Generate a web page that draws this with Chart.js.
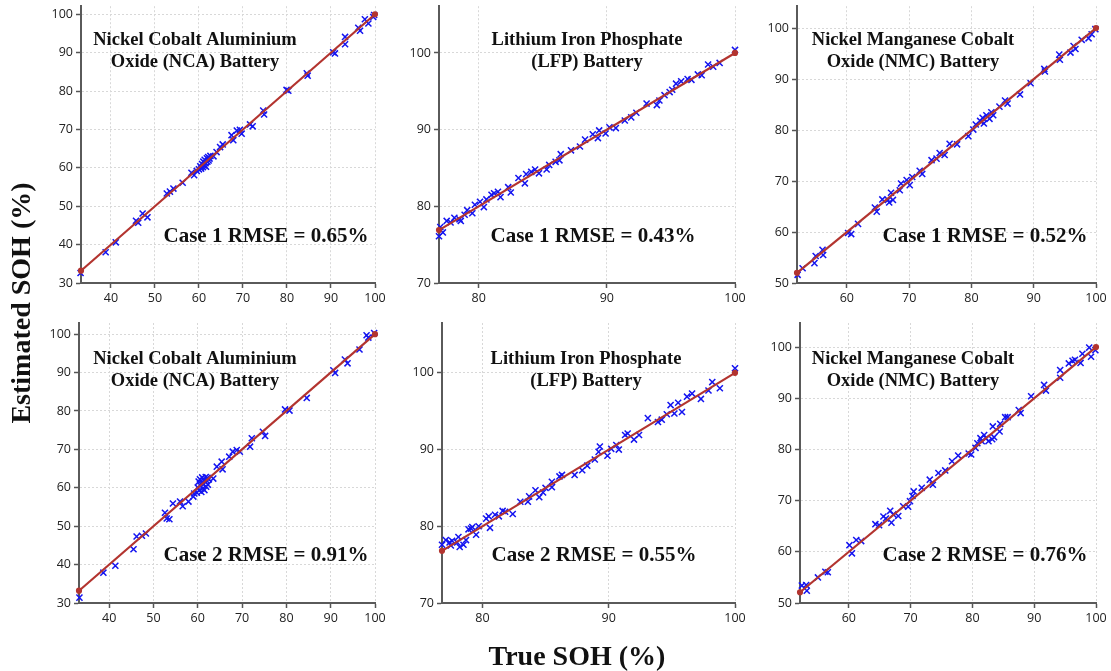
<!DOCTYPE html>
<html>
<head>
<meta charset="utf-8">
<script src="https://cdn.jsdelivr.net/npm/chart.js@4.4.1/dist/chart.umd.min.js"></script>
<style>
  html, body { margin: 0; padding: 0; background: #fff; }
  #wrap { position: relative; width: 1111px; height: 671px; overflow: hidden; background: #fff; }
  #wrap canvas { position: absolute; left: 0; top: 0; }
</style>
</head>
<body>
<div id="wrap"></div>
<script>
// ---- Tick labels ----
const ncaXTicks = [40, 50, 60, 70, 80, 90, 100];
const ncaYTicks = [30, 40, 50, 60, 70, 80, 90, 100];
const lfpXTicks = [80, 90, 100];
const lfpYTicks = [70, 80, 90, 100];
const nmcXTicks = [60, 70, 80, 90, 100];
const nmcYTicks = [50, 60, 70, 80, 90, 100];

// ---- Panel labels ----
const chemistryNames = [
  ['Nickel Cobalt Aluminium', 'Oxide (NCA) Battery'],
  ['Lithium Iron Phosphate', '(LFP) Battery'],
  ['Nickel Manganese Cobalt', 'Oxide (NMC) Battery']
];
const rmseCase1 = ['0.65', '0.43', '0.52'];
const rmseCase2 = ['0.91', '0.55', '0.76'];

// ---- NCA, case 1 ----
const ncaCase1True = [33.1, 38.8, 41.1, 45.7, 46.2, 47.2, 48.3, 52.7, 53.4, 54.2, 56.3, 58.3, 58.9, 59.5,
  60.0, 60.3, 60.5, 60.7, 60.9, 61.0, 61.2, 61.3, 61.5, 61.6, 61.8, 61.9, 62.1, 62.2, 62.4, 62.6,
  63.3, 64.0, 64.8, 65.4, 67.4, 67.8, 68.6, 69.3, 69.7, 71.6, 72.2, 74.6, 74.8, 79.9, 80.3, 84.5, 84.7,
  90.5, 90.9, 93.2, 93.2, 96.2, 96.6, 97.7, 98.5, 99.6, 99.8];
const ncaCase1Est = [32.6, 38.0, 40.6, 46.2, 45.7, 48.1, 47.1, 53.3, 53.8, 54.6, 56.1, 58.7, 58.1, 59.2,
  59.6, 60.4, 59.8, 61.0, 60.2, 61.6, 60.6, 62.1, 61.2, 60.3, 62.5, 61.6, 62.8, 61.9, 62.4, 63.1,
  63.0, 64.1, 65.4, 66.1, 68.5, 67.2, 69.7, 69.9, 68.9, 71.3, 70.8, 74.9, 73.9, 80.3, 80.1, 84.6, 84.0,
  90.1, 89.8, 94.1, 92.2, 96.5, 95.7, 98.7, 97.6, 99.3, 99.8];

// ---- LFP, case 1 ----
const lfpCase1True = [76.9, 77.0, 77.2, 77.5, 77.8, 78.1, 78.5, 78.6, 78.9, 79.1, 79.5, 79.7, 80.1, 80.4,
  80.6, 81.0, 81.2, 81.5, 81.7, 82.3, 82.5, 83.1, 83.6, 83.7, 84.1, 84.4, 84.7, 85.3, 85.5, 86.0, 86.3,
  86.4, 87.2, 87.9, 88.3, 88.9, 89.3, 89.4, 89.9, 90.2, 90.7, 91.4, 91.9, 92.3, 93.1, 93.9, 94.1, 94.5,
  94.9, 95.1, 95.4, 95.8, 96.3, 96.6, 97.1, 97.4, 97.9, 98.3, 98.8, 100.0];
const lfpCase1Est = [76.1, 77.3, 76.6, 78.1, 77.9, 78.5, 78.3, 78.1, 78.9, 79.5, 79.1, 80.2, 80.6, 79.9,
  80.9, 81.5, 81.7, 81.9, 81.2, 82.5, 81.8, 83.7, 83.0, 84.2, 84.5, 84.8, 84.3, 84.8, 85.4, 85.8, 86.0,
  86.8, 87.3, 87.8, 88.7, 89.4, 88.9, 89.9, 89.5, 90.3, 90.2, 91.2, 91.6, 92.2, 93.4, 93.2, 93.8, 94.5,
  94.9, 95.2, 96.0, 96.3, 96.6, 96.5, 97.2, 97.1, 98.5, 98.2, 98.7, 100.4];

// ---- NMC, case 1 ----
const nmcCase1True = [52.1, 52.9, 54.8, 55.0, 56.1, 56.2, 60.2, 60.7, 61.8, 64.5, 64.8, 65.7, 66.6, 66.8,
  67.1, 67.4, 68.5, 68.7, 69.6, 70.1, 70.5, 71.7, 72.1, 73.6, 74.4, 74.9, 75.7, 76.5, 77.7, 79.5, 80.3,
  80.7, 81.4, 81.8, 82.0, 82.4, 82.9, 83.2, 83.5, 84.5, 85.4, 85.8, 87.8, 89.5, 91.7, 91.8, 94.1, 94.2,
  95.9, 96.4, 96.7, 97.7, 98.8, 99.3, 99.9];
const nmcCase1Est = [51.6, 52.9, 53.9, 55.3, 56.5, 55.5, 59.8, 59.6, 61.6, 64.8, 64.0, 66.4, 66.3, 65.8,
  67.7, 66.3, 68.2, 69.5, 70.2, 69.2, 70.8, 72.0, 71.4, 74.1, 74.4, 75.5, 75.1, 77.3, 77.2, 78.8, 80.1,
  81.1, 81.8, 82.4, 81.3, 82.9, 82.2, 83.5, 82.9, 84.6, 85.8, 85.2, 87.0, 89.2, 92.0, 91.5, 94.8, 93.8,
  95.2, 96.5, 95.9, 97.7, 98.0, 98.8, 99.8];

// ---- NCA, case 2 ----
const ncaCase2True = [33.3, 38.7, 41.4, 45.5, 46.2, 47.4, 48.3, 52.6, 53.0, 53.6, 54.4, 56.0, 56.6, 57.9,
  59.0, 59.2, 59.8, 60.0, 60.2, 60.3, 60.5, 60.6, 60.8, 60.9, 61.0, 61.1, 61.3, 61.4, 61.5, 61.7, 61.8,
  61.9, 62.0, 62.2, 62.3, 62.5, 63.5, 64.3, 65.4, 65.6, 67.1, 67.9, 68.8, 69.5, 71.8, 72.2, 74.7, 75.2,
  79.7, 80.7, 84.6, 90.6, 91.0, 93.2, 93.8, 96.5, 98.1, 98.5, 99.8];
const ncaCase2Est = [31.4, 37.9, 39.7, 44.0, 47.3, 47.5, 48.1, 53.5, 52.0, 51.8, 55.9, 56.4, 55.2, 56.4,
  57.7, 58.5, 58.7, 60.1, 61.6, 59.3, 62.2, 60.6, 58.9, 61.3, 62.7, 59.8, 60.9, 62.0, 59.4, 61.5, 62.8,
  60.3, 61.9, 62.6, 60.8, 62.2, 62.4, 65.5, 66.8, 64.8, 68.1, 69.4, 69.8, 69.4, 70.7, 72.9, 74.6, 73.5,
  80.4, 80.1, 83.4, 90.6, 89.9, 93.4, 92.4, 96.0, 99.7, 99.1, 100.3];

// ---- LFP, case 2 ----
const lfpCase2True = [76.8, 77.1, 77.4, 77.5, 77.6, 78.0, 78.1, 78.2, 78.5, 78.7, 78.9, 79.1, 79.2, 79.5,
  79.7, 80.3, 80.5, 80.6, 81.0, 81.3, 81.6, 81.8, 82.4, 83.0, 83.6, 83.7, 84.2, 84.5, 84.8, 85.0, 85.5,
  85.5, 86.1, 86.3, 87.3, 87.9, 88.3, 88.9, 89.2, 89.3, 89.9, 90.2, 90.6, 90.8, 91.3, 91.5, 92.0, 92.4,
  93.1, 93.9, 94.2, 94.6, 94.9, 95.2, 95.5, 95.8, 96.2, 96.6, 97.3, 97.9, 98.2, 98.8, 100.0];
const lfpCase2Est = [77.6, 78.2, 77.9, 77.5, 78.1, 77.9, 78.6, 77.3, 77.6, 78.2, 79.6, 79.7, 79.9, 78.9,
  80.0, 81.0, 81.3, 79.8, 81.5, 81.3, 82.0, 81.9, 81.6, 83.2, 83.2, 83.9, 84.7, 83.8, 84.4, 85.0, 85.8,
  85.1, 86.5, 86.7, 86.7, 87.3, 87.9, 88.7, 89.7, 90.4, 89.2, 90.1, 90.6, 90.0, 91.9, 92.1, 91.3, 91.9,
  94.1, 93.6, 93.9, 94.6, 95.8, 94.7, 96.1, 94.9, 96.9, 97.3, 96.6, 97.7, 98.8, 98.0, 100.6];

// ---- NMC, case 2 ----
const nmcCase2True = [52.4, 53.1, 53.2, 55.0, 56.2, 56.6, 60.1, 60.5, 61.2, 62.0, 64.3, 64.9, 65.6, 66.0,
  66.7, 66.9, 67.2, 68.0, 68.8, 69.6, 69.9, 70.3, 70.5, 71.8, 73.1, 73.6, 74.5, 75.6, 76.7, 77.7, 79.4,
  79.8, 80.5, 80.8, 81.3, 81.5, 81.9, 82.2, 82.6, 83.2, 83.3, 83.5, 84.4, 84.5, 85.3, 85.7, 87.5, 87.8,
  89.5, 91.6, 91.9, 94.2, 94.2, 95.6, 96.2, 96.6, 97.5, 97.8, 98.9, 99.2, 99.9];
const nmcCase2Est = [53.4, 53.5, 52.4, 55.0, 56.1, 56.0, 61.3, 59.7, 62.3, 62.1, 65.4, 65.2, 66.9, 66.5,
  68.0, 65.7, 67.3, 67.0, 68.9, 68.8, 69.9, 70.9, 71.8, 72.5, 74.1, 73.1, 75.4, 75.9, 77.7, 78.8, 79.2,
  79.0, 80.3, 81.2, 82.2, 81.6, 82.8, 82.2, 81.6, 82.0, 84.5, 82.4, 83.5, 85.0, 86.3, 86.3, 87.7, 87.1,
  90.4, 92.6, 91.5, 95.5, 94.0, 96.8, 97.3, 97.5, 96.9, 98.7, 99.9, 98.1, 99.4];

// ---- Panel setup: plot box [left, top, right, bottom] and axis ranges ----
const panels = [
  { trueV: ncaCase1True, estV: ncaCase1Est, xTicks: ncaXTicks, yTicks: ncaYTicks, xr: [33.2, 100], yr: [30, 102.1],
    box: [81, 5, 375, 283], name: chemistryNames[0], tx: 195, ty: [40, 62], label: 'Case 1 RMSE = ' + rmseCase1[0] + '%', rx: 266, ry: 237 },
  { trueV: lfpCase1True, estV: lfpCase1Est, xTicks: lfpXTicks, yTicks: lfpYTicks, xr: [76.9, 100], yr: [70, 106.1],
    box: [439, 5, 735, 283], name: chemistryNames[1], tx: 587, ty: [40, 62], label: 'Case 1 RMSE = ' + rmseCase1[1] + '%', rx: 593, ry: 237 },
  { trueV: nmcCase1True, estV: nmcCase1Est, xTicks: nmcXTicks, yTicks: nmcYTicks, xr: [52.0, 100], yr: [50, 104.3],
    box: [797, 5, 1096, 283], name: chemistryNames[2], tx: 913, ty: [40, 62], label: 'Case 1 RMSE = ' + rmseCase1[2] + '%', rx: 985, ry: 237 },
  { trueV: ncaCase2True, estV: ncaCase2Est, xTicks: ncaXTicks, yTicks: ncaYTicks, xr: [33.2, 100], yr: [30, 102.9],
    box: [79, 323, 375, 603], name: chemistryNames[0], tx: 195, ty: [359, 381], label: 'Case 2 RMSE = ' + rmseCase2[0] + '%', rx: 266, ry: 556 },
  { trueV: lfpCase2True, estV: lfpCase2Est, xTicks: lfpXTicks, yTicks: lfpYTicks, xr: [76.8, 100], yr: [70, 106.5],
    box: [442, 323, 735, 603], name: chemistryNames[1], tx: 586, ty: [359, 381], label: 'Case 2 RMSE = ' + rmseCase2[1] + '%', rx: 594, ry: 556 },
  { trueV: nmcCase2True, estV: nmcCase2Est, xTicks: nmcXTicks, yTicks: nmcYTicks, xr: [52.1, 100], yr: [50, 104.7],
    box: [800, 323, 1096, 603], name: chemistryNames[2], tx: 913, ty: [359, 381], label: 'Case 2 RMSE = ' + rmseCase2[2] + '%', rx: 985, ry: 556 }
];

const W = 1111, H = 671;
const Y_AXIS_W = 45, X_AXIS_H = 30;
const SERIF = '"Liberation Serif", "Times New Roman", serif';
const SANS = '"Open Sans", "Noto Sans", sans-serif';
const LINE_RED = '#b3342f';
const MARK_BLUE = '#1414f0';
const wrap = document.getElementById('wrap');

function fixTicks(values) {
  return function (scale) { scale.ticks = values.map(v => ({ value: v })); };
}
function fixSize(prop, size) {
  return function (scale) {
    scale[prop] = size;
    scale.paddingTop = 0; scale.paddingBottom = 0;
    scale.paddingLeft = 0; scale.paddingRight = 0;
  };
}
function axisOpts(range, ticks, sizeProp, size) {
  return {
    type: 'linear',
    min: range[0], max: range[1],
    afterBuildTicks: fixTicks(ticks),
    afterFit: fixSize(sizeProp, size),
    grid: { color: '#d8d8d8', lineWidth: 1, tickLength: 5, tickColor: '#555', tickWidth: 1.5, tickBorderDash: [] },
    border: { color: '#5a5a5a', width: 2, dash: [2, 2] },
    ticks: { color: '#222', padding: 3, font: { family: SANS, size: 12.5 }, callback: v => String(v) }
  };
}

// Panel headings, RMSE captions and (on the first panel) the shared axis titles
const textPlugin = {
  id: 'panelText',
  afterDraw(chart) {
    const p = chart.config.options.plugins.panelText;
    const ctx = chart.ctx;
    ctx.save();
    ctx.fillStyle = '#111';
    ctx.textAlign = 'center';
    ctx.textBaseline = 'middle';
    ctx.font = 'bold 18.5px ' + SERIF;
    ctx.fillText(p.name[0], p.tx, p.ty[0]);
    ctx.fillText(p.name[1], p.tx, p.ty[1]);
    ctx.font = 'bold 21px ' + SERIF;
    ctx.fillText(p.label, p.rx, p.ry);
    if (p.axisTitles) {
      ctx.font = 'bold 28px ' + SERIF;
      ctx.fillText('True SOH (%)', 577, 658);
      ctx.translate(23, 303);
      ctx.rotate(-Math.PI / 2);
      ctx.fillText('Estimated SOH (%)', 0, 0);
    }
    ctx.restore();
  }
};

panels.forEach((p, i) => {
  const canvas = document.createElement('canvas');
  canvas.width = W; canvas.height = H;
  canvas.style.width = W + 'px'; canvas.style.height = H + 'px';
  wrap.appendChild(canvas);
  const [L, T, R, B] = p.box;
  const points = p.trueV.map((t, k) => ({ x: t, y: p.estV[k] }));
  const ideal = [{ x: p.xr[0], y: p.xr[0] }, { x: 100, y: 100 }];
  new Chart(canvas, {
    type: 'scatter',
    data: {
      datasets: [
        { data: ideal, showLine: true, borderColor: LINE_RED, borderWidth: 2.2, pointRadius: 2,
          pointBackgroundColor: LINE_RED, pointBorderColor: LINE_RED, clip: false },
        { data: points, pointStyle: 'crossRot', pointRadius: 4.3, borderColor: MARK_BLUE, borderWidth: 1.5,
          backgroundColor: MARK_BLUE, clip: false }
      ]
    },
    options: {
      responsive: false,
      animation: false,
      events: [],
      layout: { padding: { left: L - Y_AXIS_W, top: T, right: W - R, bottom: H - B - X_AXIS_H } },
      scales: {
        x: axisOpts(p.xr, p.xTicks, 'height', X_AXIS_H),
        y: axisOpts(p.yr, p.yTicks, 'width', Y_AXIS_W)
      },
      plugins: {
        legend: { display: false },
        tooltip: { enabled: false },
        panelText: Object.assign({}, p, { axisTitles: i === 0 })
      }
    },
    plugins: [textPlugin]
  });
});
</script>
</body>
</html>
